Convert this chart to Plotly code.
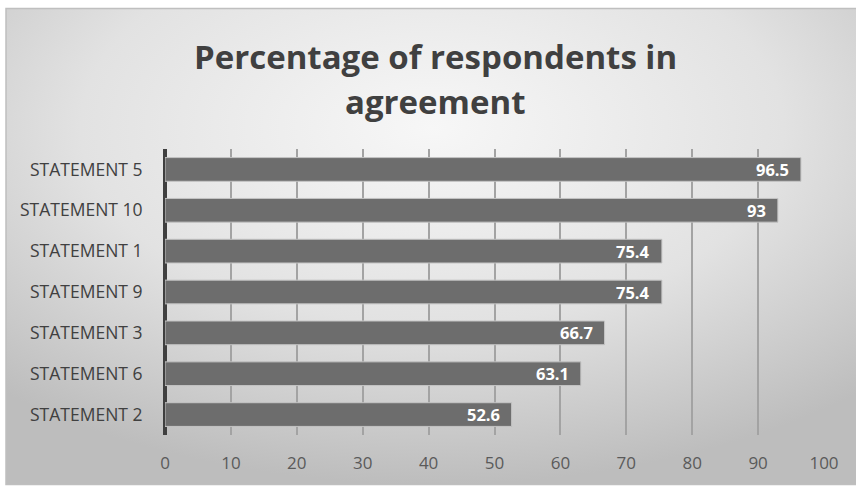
import base64
import plotly.graph_objects as go

# Survey results: share of respondents agreeing with each statement
statements = ["STATEMENT 5", "STATEMENT 10", "STATEMENT 1", "STATEMENT 9",
              "STATEMENT 3", "STATEMENT 6", "STATEMENT 2"]
agreement = [96.5, 93, 75.4, 75.4, 66.7, 63.1, 52.6]
x_ticks = [0, 10, 20, 30, 40, 50, 60, 70, 80, 90, 100]

title_lines = ["Percentage of respondents in", "agreement"]

FONT = "Open Sans"
W, H = 856, 486
ML, MR, MT, MB = 165, 32, 149, 48
PW, PH = W - ML - MR, H - MT - MB


def px_to_paper_x(px):
    return (px - ML) / PW


def px_to_paper_y(py):
    return (H - MB - py) / PH


# Radial grey background for the chart panel
svg = (
    '<svg xmlns="http://www.w3.org/2000/svg" width="850" height="479" '
    'preserveAspectRatio="none" viewBox="0 0 850 479">'
    '<defs><radialGradient id="g" cx="50%" cy="25%" r="75%" '
    'gradientUnits="objectBoundingBox">'
    '<stop offset="0" stop-color="#f7f7f7"/>'
    '<stop offset="0.55" stop-color="#e2e2e2"/>'
    '<stop offset="1" stop-color="#bdbdbd"/>'
    '</radialGradient></defs>'
    '<rect width="850" height="479" fill="url(#g)"/></svg>'
)
bg_uri = "data:image/svg+xml;base64," + base64.b64encode(svg.encode()).decode()

fig = go.Figure()
fig.add_trace(go.Bar(
    x=agreement,
    y=statements,
    orientation="h",
    width=0.58,
    marker=dict(color="#6d6d6d", line=dict(color="#c4c4c4", width=1)),
    hoverinfo="x+y",
))

annotations = []
# Value labels at the end of each bar
for s, v in zip(statements, agreement):
    annotations.append(dict(
        x=v, y=s, xref="x", yref="y", text=f"{v:g}",
        showarrow=False, xanchor="right", xshift=-10,
        font=dict(family=FONT, size=16.5, color="white", weight="bold"),
    ))
# Two-line title
for i, line in enumerate(title_lines):
    annotations.append(dict(
        x=px_to_paper_x(435), y=px_to_paper_y(56 + 45 * i),
        xref="paper", yref="paper", text=line, showarrow=False,
        xanchor="center", yanchor="middle",
        font=dict(family=FONT, size=33, color="#404040", weight="bold"),
    ))

x0, x1 = px_to_paper_x(6), px_to_paper_x(W + 2)
y0, y1 = px_to_paper_y(H + 2), px_to_paper_y(7)

fig.update_layout(
    width=W, height=H,
    margin=dict(l=ML, r=MR, t=MT, b=MB),
    paper_bgcolor="white",
    plot_bgcolor="rgba(0,0,0,0)",
    showlegend=False,
    bargap=0.42,
    annotations=annotations,
    images=[dict(
        source=bg_uri, xref="paper", yref="paper",
        x=x0, y=y1, sizex=x1 - x0, sizey=y1 - y0,
        xanchor="left", yanchor="top", sizing="stretch", layer="below",
    )],
    shapes=[dict(
        type="rect", xref="paper", yref="paper",
        x0=x0, x1=x1, y0=y0, y1=y1,
        line=dict(color="#bfbfbf", width=1.5), layer="below",
    )],
    xaxis=dict(
        range=[0, 100], tickvals=x_ticks, showgrid=True,
        gridcolor="#a3a3a3", gridwidth=2,
        zeroline=True, zerolinecolor="#3f3f3f", zerolinewidth=4,
        showline=False, ticks="outside", ticklen=13,
        tickcolor="rgba(0,0,0,0)",
        tickfont=dict(family=FONT, size=17, color="#5a5a5a"),
        fixedrange=True,
    ),
    yaxis=dict(
        categoryorder="array", categoryarray=statements,
        autorange="reversed", showgrid=False, showline=False,
        ticks="outside", ticklen=18, tickcolor="rgba(0,0,0,0)",
        tickfont=dict(family=FONT, size=17.5, color="#404040"),
        fixedrange=True,
    ),
)

fig.write_html("out.html")
